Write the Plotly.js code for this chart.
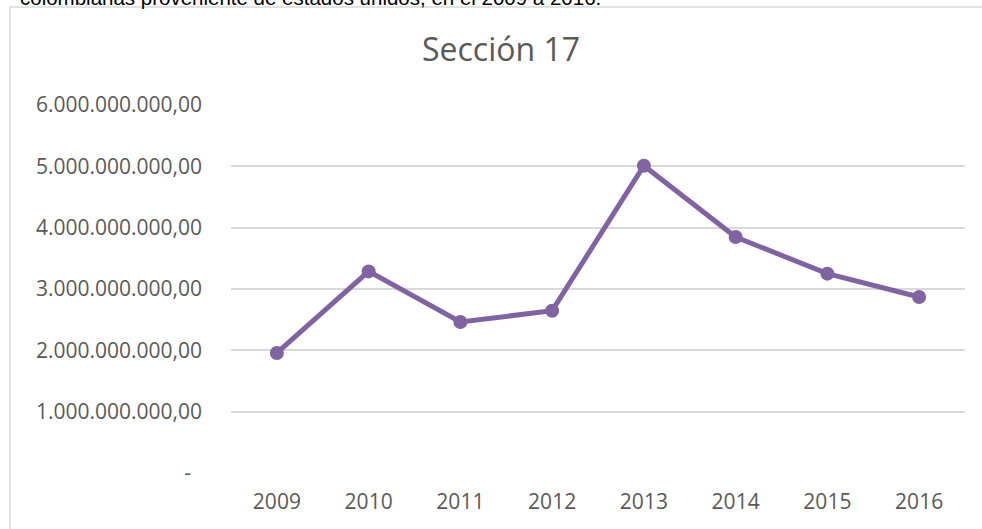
<!DOCTYPE html>
<html>
<head>
<meta charset="utf-8">
<script src="https://cdn.plot.ly/plotly-3.0.1.min.js"></script>
<style>html,body{margin:0;padding:0;background:#fff;}#chart{width:982px;height:529px;}</style>
</head>
<body>
<div id="chart"></div>
<script>
const years = ["2009", "2010", "2011", "2012", "2013", "2014", "2015", "2016"];
const values = [1957000000, 3287000000, 2462000000, 2646000000, 5010000000, 3848000000, 3250000000, 2870000000];
const tickValues = [0, 1000000000, 2000000000, 3000000000, 4000000000, 5000000000, 6000000000];
const tickLabels = ["-\u00a0\u00a0", "1.000.000.000,00", "2.000.000.000,00", "3.000.000.000,00", "4.000.000.000,00", "5.000.000.000,00", "6.000.000.000,00"];
const chartTitle = "Sección 17";
const cutText = "colombianas proveniente de estados unidos, en el 2009 a 2016.";

const W = 982, H = 529;
const L = 231, R = 17, T = 105, B = 56;
const pw = W - L - R, ph = H - T - B;
const px = x => (x - L) / pw;
const py = y => (H - B - y) / ph;

const trace = {
  x: years, y: values, type: 'scatter', mode: 'lines+markers',
  line: {color: '#8064a2', width: 5},
  marker: {color: '#8064a2', size: 14},
  hoverinfo: 'x+y'
};

const layout = {
  width: W, height: H,
  margin: {l: L, r: R, t: T, b: B, pad: 0},
  paper_bgcolor: '#ffffff', plot_bgcolor: '#ffffff',
  showlegend: false,
  font: {family: '"Open Sans", sans-serif', color: '#595959', size: 21},
  title: {text: chartTitle, font: {family: '"Open Sans", sans-serif', size: 32, color: '#595959'},
          x: 501 / W, xref: 'container', xanchor: 'center', y: 1 - 50 / H, yref: 'container', yanchor: 'middle'},
  xaxis: {type: 'category', range: [-0.5, 7.5], showgrid: false, zeroline: false, showline: false,
          ticks: '', tickfont: {size: 21, color: '#595959'}, ticklabelstandoff: 14},
  yaxis: {range: [0, 6000000000], tickvals: tickValues, ticktext: tickLabels, showgrid: true,
          gridcolor: '#d9d9d9', gridwidth: 1.5, zeroline: false, showline: false, ticks: '',
          tickfont: {size: 21, color: '#595959'}, ticklabelstandoff: 28, fixedrange: true},
  shapes: [{type: 'rect', xref: 'paper', yref: 'paper', x0: px(10), x1: px(1000), y0: py(7), y1: py(560),
            line: {color: '#d9d9d9', width: 1.5}, fillcolor: 'rgba(0,0,0,0)', layer: 'below'}],
  annotations: [{text: cutText, xref: 'paper', yref: 'paper', x: px(18), y: py(11), xanchor: 'left', yanchor: 'bottom',
                 showarrow: false, font: {family: '"Liberation Sans", Arial, sans-serif', size: 20.5, color: '#000000'}}]
};

Plotly.newPlot('chart', [trace], layout, {displayModeBar: false});
</script>
</body>
</html>
